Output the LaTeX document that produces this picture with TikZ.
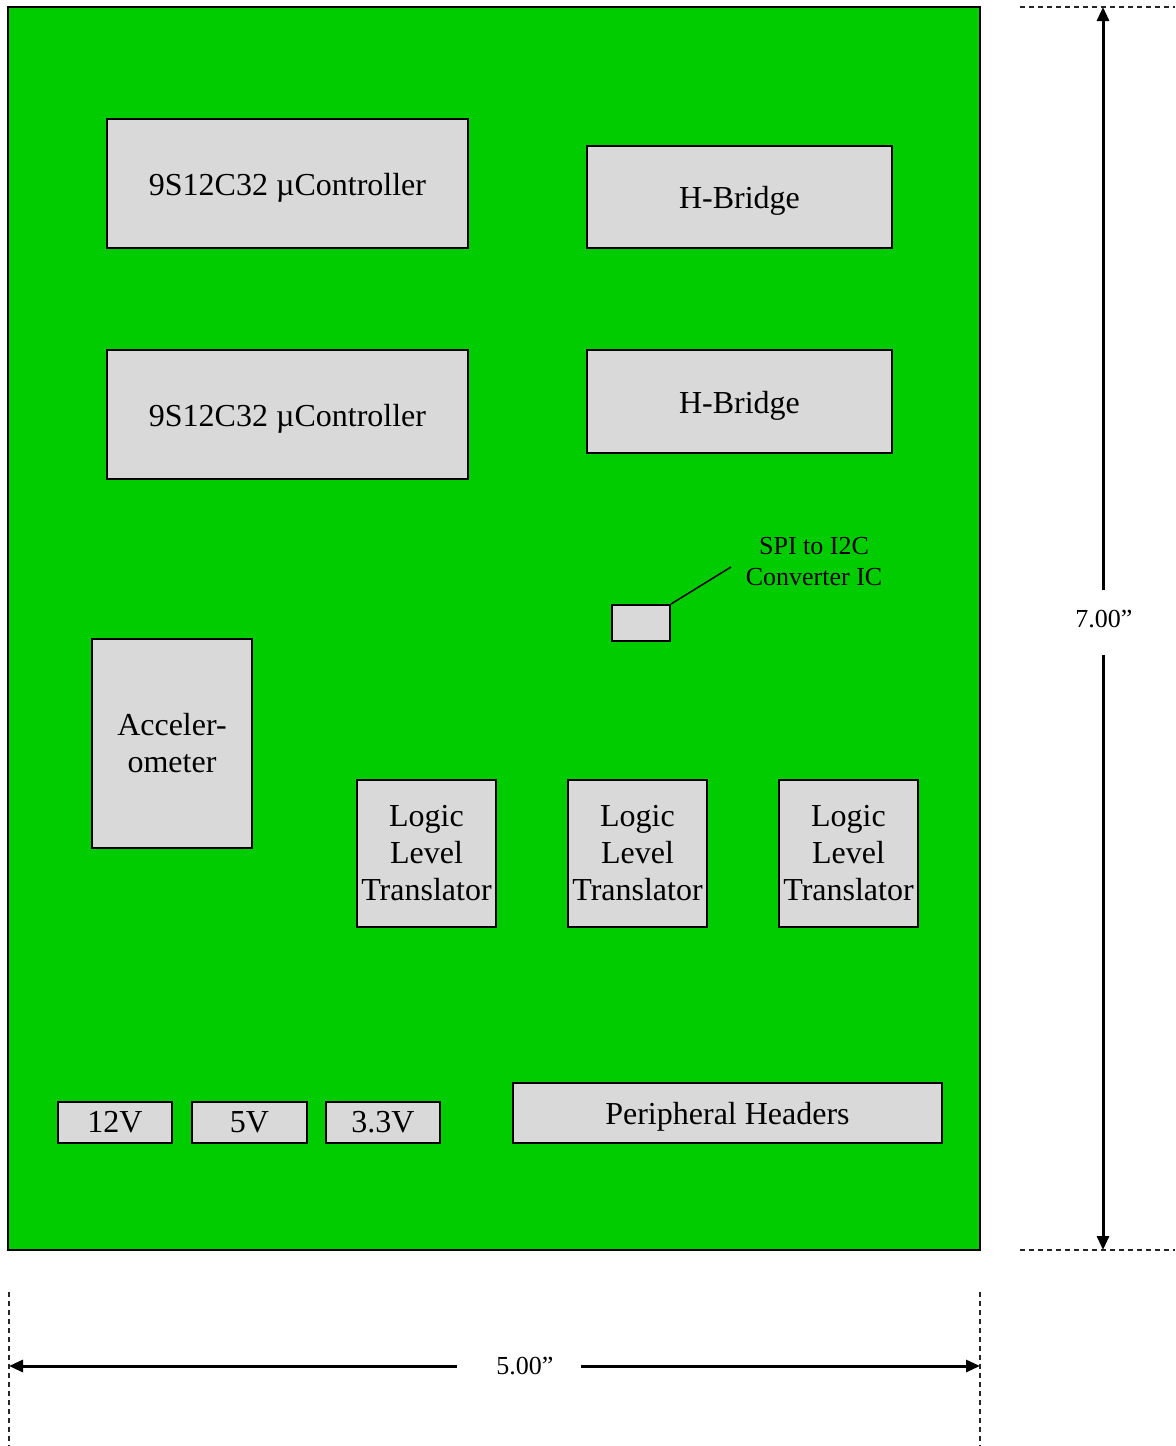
\documentclass[tikz,border=0pt]{standalone}
\usepackage{fontspec}
\setmainfont{Liberation Serif}
\usetikzlibrary{arrows.meta,fit}
\definecolor{board}{HTML}{00CC00}
\definecolor{chip}{HTML}{D9D9D9}
\begin{document}
\begin{tikzpicture}[x=0.5pt,y=-0.5pt,
  box/.style={draw=black,line width=1pt,fill=chip,inner sep=0pt},
  boxtext/.style={align=center,inner sep=0pt,font=\fontsize{16}{18.5}\selectfont},
  lowtext/.style={boxtext,yshift=-2pt},
  boardbox/.style={draw=black,line width=1pt,fill=board,inner sep=0pt},
  dimline/.style={line width=1.5pt,-{Triangle[length=7pt,width=6pt]}},
  guide/.style={line width=0.6pt,draw=black!85,dash pattern=on 2.5pt off 2pt},
  dimlabel/.style={font=\fontsize{13}{15}\selectfont,inner sep=0pt},
  smalllabel/.style={font=\fontsize{13}{15.5}\selectfont,align=center,inner sep=0pt}]
\useasboundingbox (0,0) rectangle (1175,1446);
% board
\node[boardbox,fit={(8,7) (980,1250)}] (board) {};
% blocks
\node[box,fit={(107,119) (468,248)}] (uc1) {};
\node[lowtext] (uc1t) at (uc1.center) {9S12C32 µController};
\node[box,fit={(587,146) (892,248)}] (hb1) {};
\node[lowtext] (hb1t) at (hb1.center) {H-Bridge};
\node[box,fit={(107,350) (468,479)}] (uc2) {};
\node[lowtext] (uc2t) at (uc2.center) {9S12C32 µController};
\node[box,fit={(587,350) (892,453)}] (hb2) {};
\node[lowtext] (hb2t) at (hb2.center) {H-Bridge};
\node[box,fit={(612,605) (670,641)}] (spi) {};
\node[smalllabel] (spilab) at (814,562) {SPI to I2C\\Converter IC};
\coordinate (spiend) at (731,567);
\draw[line width=0.75pt] (spi.north east) -- (spiend);
\node[box,fit={(92,639) (252,848)}] (acc) {};
\node[boxtext] (acct) at (acc.center) {Acceler-\\ometer};
\node[box,fit={(357,780) (496,927)}] (llt1) {};
\node[boxtext] (llt1t) at (llt1.center) {Logic\\Level\\Translator};
\node[box,fit={(568,780) (707,927)}] (llt2) {};
\node[boxtext] (llt2t) at (llt2.center) {Logic\\Level\\Translator};
\node[box,fit={(779,780) (918,927)}] (llt3) {};
\node[boxtext] (llt3t) at (llt3.center) {Logic\\Level\\Translator};
\node[box,fit={(58,1102) (172,1143)}] (v12) {};
\node[boxtext] (v12t) at (v12.center) {12V};
\node[box,fit={(192,1102) (307,1143)}] (v5) {};
\node[boxtext] (v5t) at (v5.center) {5V};
\node[box,fit={(326,1102) (440,1143)}] (v33) {};
\node[boxtext] (v33t) at (v33.center) {3.3V};
\node[box,fit={(513,1083) (942,1143)}] (ph) {};
\node[lowtext] (pht) at (ph.center) {Peripheral Headers};
% vertical dimension
\coordinate (gtl) at (1020,7);
\coordinate (gtr) at (1175,7);
\coordinate (gbl) at (1020,1250);
\coordinate (gbr) at (1175,1250);
\draw[guide] (gtl) -- (gtr);
\draw[guide] (gbl) -- (gbr);
\coordinate (vtop) at (1103,7);
\coordinate (vbot) at (1103,1250);
\coordinate (vg1) at (1103,590);
\coordinate (vg2) at (1103,655);
\node[dimlabel] (vlab) at (1104,619) {7.00”};
\draw[dimline] (vg1) -- (vtop);
\draw[dimline] (vg2) -- (vbot);
% horizontal dimension
\coordinate (l1) at (9,1292);
\coordinate (l2) at (9,1446);
\coordinate (r1) at (980,1292);
\coordinate (r2) at (980,1446);
\draw[guide] (l1) -- (l2);
\draw[guide] (r1) -- (r2);
\coordinate (hl) at (9,1366);
\coordinate (hr) at (980,1366);
\coordinate (hg1) at (457,1366);
\coordinate (hg2) at (581,1366);
\node[dimlabel] (hlab) at (525,1366) {5.00”};
\draw[dimline] (hg1) -- (hl);
\draw[dimline] (hg2) -- (hr);
\end{tikzpicture}
\end{document}
